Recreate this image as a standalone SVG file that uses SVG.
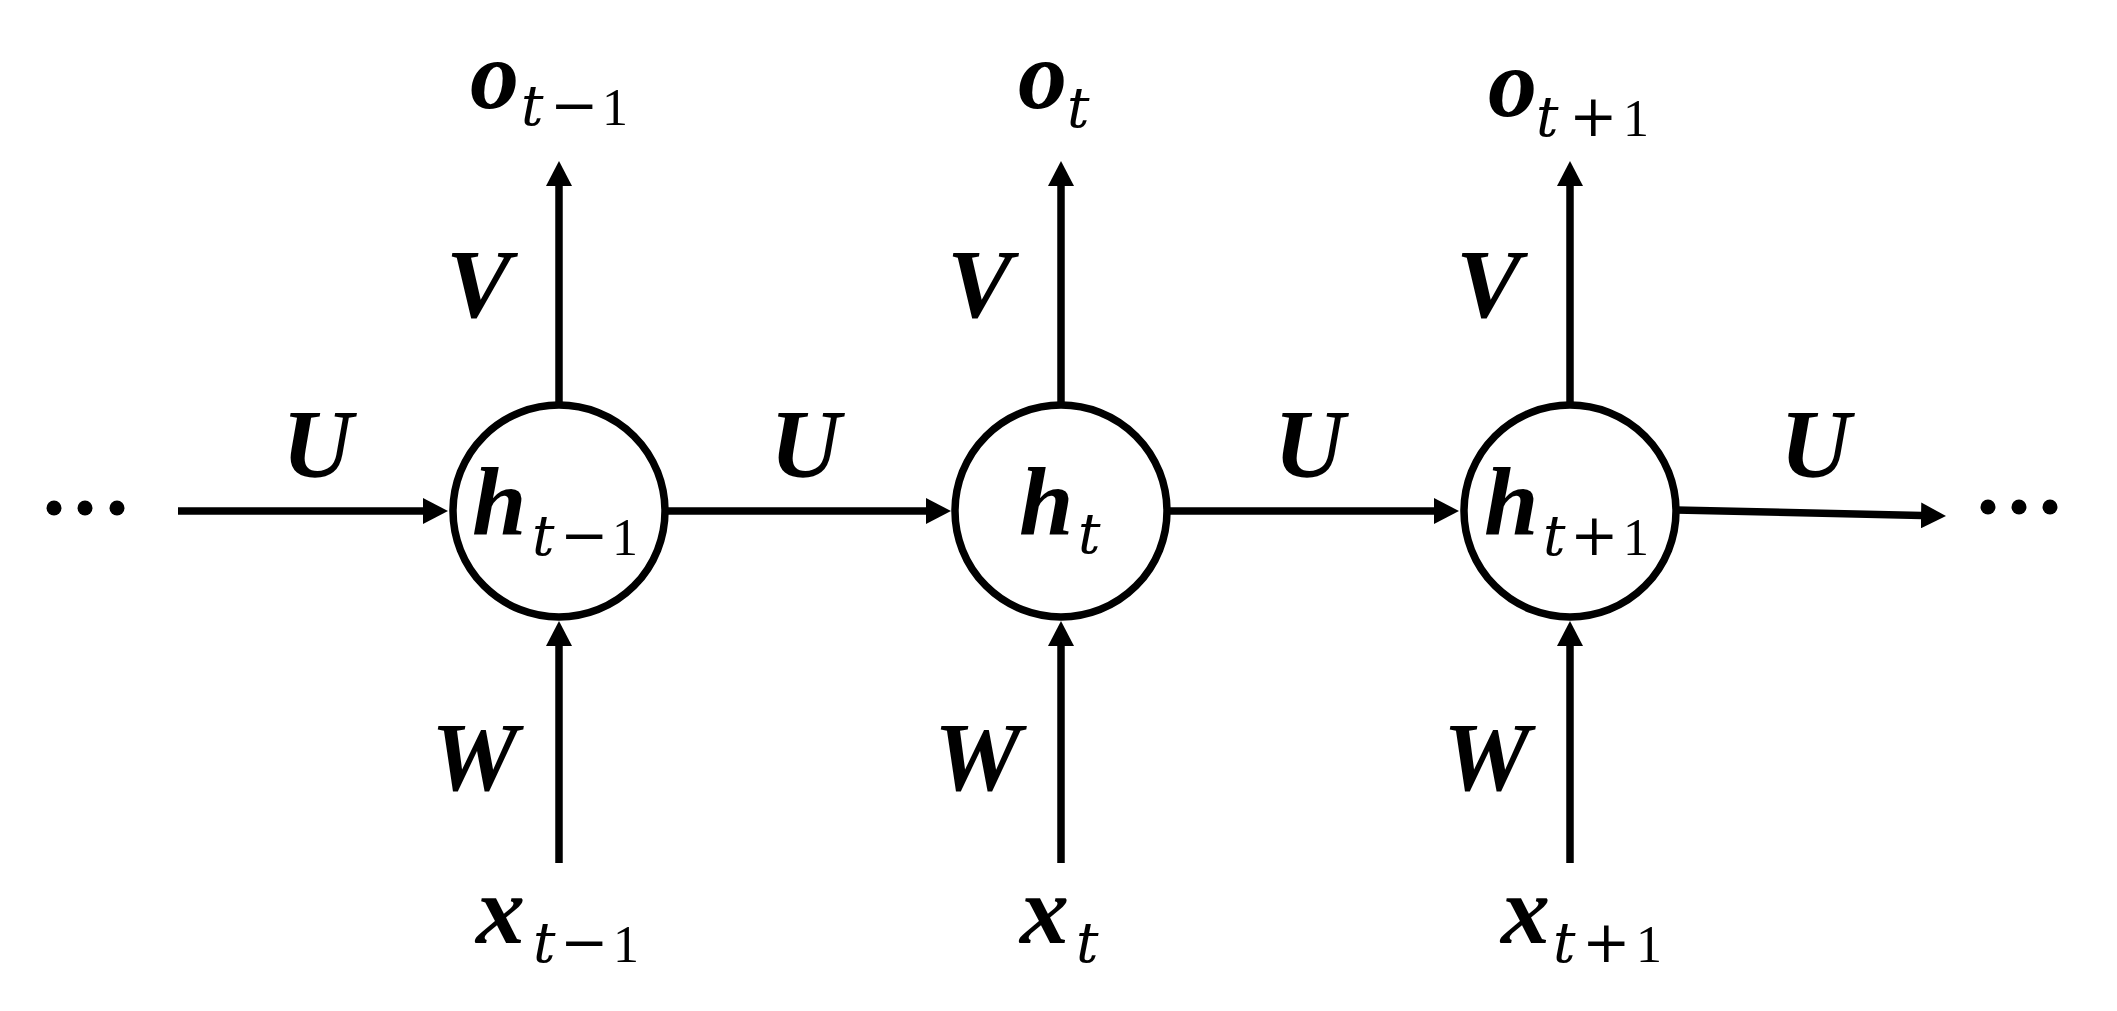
<svg xmlns="http://www.w3.org/2000/svg" width="2117" height="1011" viewBox="0 0 2117 1011">
<style>
.node{fill:#fff;stroke:#000;stroke-width:7.5}
.edge{fill:none;stroke:#000;stroke-width:7.5}
.m{font-family:"Liberation Serif",serif;font-weight:bold;font-style:italic;font-size:98px;fill:#000}
.t{font-family:"DejaVu Serif",serif;font-style:italic;font-size:56px;fill:#000}
.d{font-family:"Liberation Serif",serif;font-size:52px;fill:#000}
.op{font-family:"DejaVu Serif",serif;font-size:58px;fill:#000}
.dot{fill:#000}
</style>
<defs>
<marker id="arr" viewBox="0 0 25 26" refX="1" refY="13" markerWidth="25" markerHeight="26" markerUnits="userSpaceOnUse" orient="auto">
<path d="M0,0 L25,13 L0,26 z" fill="#000"/>
</marker>
</defs>
<g id="connectors">
<line class="edge" x1="178" y1="511" x2="424" y2="511" marker-end="url(#arr)"/>
<line class="edge" x1="665" y1="511" x2="927" y2="511" marker-end="url(#arr)"/>
<line class="edge" x1="1167" y1="511" x2="1435" y2="511" marker-end="url(#arr)"/>
<line class="edge" x1="1676" y1="510" x2="1922" y2="515.5" marker-end="url(#arr)"/>
<line class="edge" x1="559" y1="405" x2="559" y2="185" marker-end="url(#arr)"/>
<line class="edge" x1="1061" y1="405" x2="1061" y2="185" marker-end="url(#arr)"/>
<line class="edge" x1="1570" y1="405" x2="1570" y2="185" marker-end="url(#arr)"/>
<line class="edge" x1="559" y1="863" x2="559" y2="645" marker-end="url(#arr)"/>
<line class="edge" x1="1061" y1="863" x2="1061" y2="645" marker-end="url(#arr)"/>
<line class="edge" x1="1570" y1="863" x2="1570" y2="645" marker-end="url(#arr)"/>
</g>
<g id="dots_left">
<circle class="dot" cx="54" cy="508" r="7.5"/>
<circle class="dot" cx="85" cy="508" r="7.5"/>
<circle class="dot" cx="117" cy="508" r="7.5"/>
</g>
<g id="dots_right">
<circle class="dot" cx="1988" cy="507" r="7.5"/>
<circle class="dot" cx="2019" cy="507" r="7.5"/>
<circle class="dot" cx="2050" cy="507" r="7.5"/>
</g>
<g id="h_tm1">
<circle class="node" cx="559" cy="511" r="106"/>
<text><tspan class="m" x="472" y="535">h</tspan><tspan class="t" x="532" y="555">t</tspan><tspan class="op" x="560" y="555">−</tspan><tspan class="d" x="612" y="555">1</tspan></text>
</g>
<g id="h_t">
<circle class="node" cx="1061" cy="511" r="106"/>
<text><tspan class="m" x="1019" y="535">h</tspan><tspan class="t" x="1078" y="553">t</tspan></text>
</g>
<g id="h_tp1">
<circle class="node" cx="1570" cy="511" r="106"/>
<text><tspan class="m" x="1484" y="535">h</tspan><tspan class="t" x="1543" y="555">t</tspan><tspan class="op" x="1570" y="555">+</tspan><tspan class="d" x="1623" y="555">1</tspan></text>
</g>
<g id="o_tm1">
<text><tspan class="m" x="470" y="108">o</tspan><tspan class="t" x="521" y="125">t</tspan><tspan class="op" x="550" y="125">−</tspan><tspan class="d" x="602" y="125">1</tspan></text>
</g>
<g id="o_t">
<text><tspan class="m" x="1018" y="108">o</tspan><tspan class="t" x="1067" y="127">t</tspan></text>
</g>
<g id="o_tp1">
<text><tspan class="m" x="1488" y="116">o</tspan><tspan class="t" x="1536" y="136">t</tspan><tspan class="op" x="1569" y="136">+</tspan><tspan class="d" x="1623" y="136">1</tspan></text>
</g>
<g id="x_tm1">
<text><tspan class="m" x="476" y="943">x</tspan><tspan class="t" x="533" y="962">t</tspan><tspan class="op" x="560" y="962">−</tspan><tspan class="d" x="613" y="962">1</tspan></text>
</g>
<g id="x_t">
<text><tspan class="m" x="1020" y="943">x</tspan><tspan class="t" x="1076" y="962">t</tspan></text>
</g>
<g id="x_tp1">
<text><tspan class="m" x="1501" y="943">x</tspan><tspan class="t" x="1553" y="962">t</tspan><tspan class="op" x="1582" y="962">+</tspan><tspan class="d" x="1636" y="962">1</tspan></text>
</g>
<g id="labels">
<text class="m" x="282" y="477">U</text>
<text class="m" x="770" y="477">U</text>
<text class="m" x="1274" y="477">U</text>
<text class="m" x="1780" y="477">U</text>
<text class="m" x="446" y="317">V</text>
<text class="m" x="947" y="317">V</text>
<text class="m" x="1456" y="317">V</text>
<text class="m" x="431" y="790">W</text>
<text class="m" x="934" y="790">W</text>
<text class="m" x="1443" y="790">W</text>
</g>
</svg>
